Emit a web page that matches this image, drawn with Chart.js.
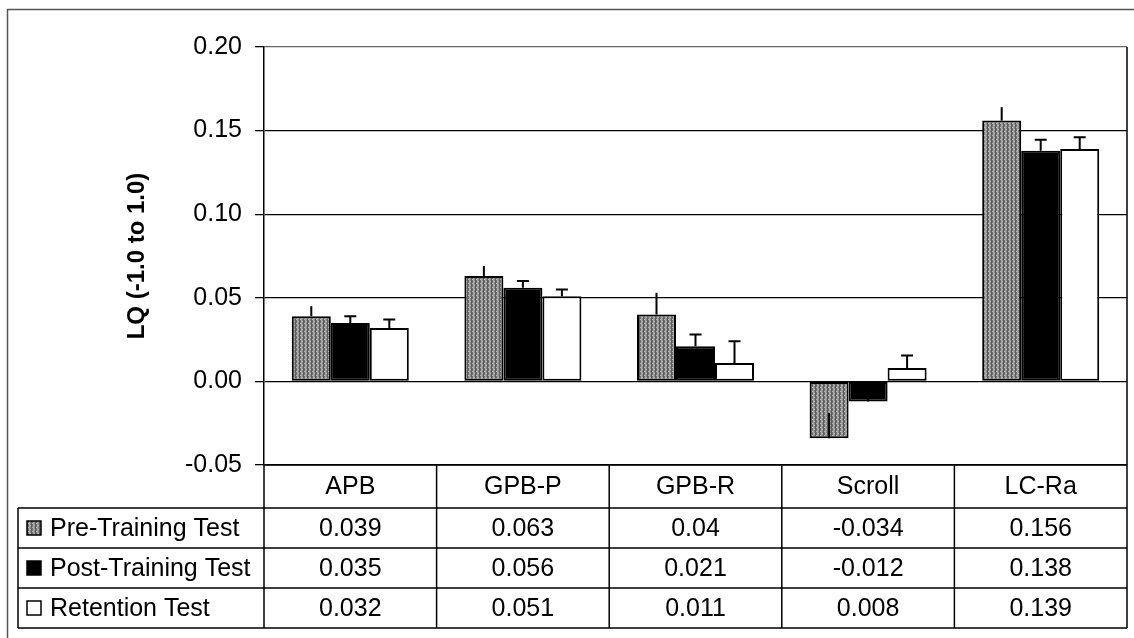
<!DOCTYPE html>
<html>
<head>
<meta charset="utf-8">
<script src="https://cdn.jsdelivr.net/npm/chart.js@4"></script>
<style>
  html, body { margin: 0; padding: 0; background: #fff; }
  canvas { display: block; }
</style>
</head>
<body>
<canvas id="lq" width="1134" height="638"></canvas>
<script>
const categories = ['APB', 'GPB-P', 'GPB-R', 'Scroll', 'LC-Ra'];
const seriesNames = ['Pre-Training Test', 'Post-Training Test', 'Retention Test'];
const preTraining = [0.039, 0.063, 0.04, -0.034, 0.156];
const postTraining = [0.035, 0.056, 0.021, -0.012, 0.138];
const retention = [0.032, 0.051, 0.011, 0.008, 0.139];
// standard errors
const preErr = [0.006, 0.006, 0.013, 0.015, 0.008];
const postErr = [0.004, 0.004, 0.007, 0.006, 0.0066];
const retErr = [0.005, 0.004, 0.013, 0.0075, 0.007];
const yTicks = [-0.05, 0.00, 0.05, 0.10, 0.15, 0.20];

const FONT = '"Liberation Sans", Arial, sans-serif';

// speckled grey fill like the printed original
function stripePattern() {
    const c = document.createElement('canvas');
    c.width = 4; c.height = 4;
    const g = c.getContext('2d');
    const cols = ['#6e6e6e', '#a8a8a8', '#8a8a8a', '#5c5c5c'];
    cols.forEach((col, i) => { g.fillStyle = col; g.fillRect(i, 0, 1, 4); });
    g.fillStyle = '#b8b8b8';
    g.fillRect(2, 1, 1, 1);
    g.fillRect(0, 3, 1, 1);
    return g.createPattern(c, 'repeat');
}

const ctx = document.getElementById('lq').getContext('2d');
const preFill = stripePattern();
const fills = [preFill, '#000000', '#ffffff'];
const errs = [preErr, postErr, retErr];
const caps = [false, true, true];

const errorBars = {
    id: 'errorBars',
    afterDatasetsDraw(chart) {
        const { ctx } = chart;
        const y = chart.scales.y;
        ctx.save();
        ctx.strokeStyle = '#000';
        ctx.lineWidth = 2;
        chart.data.datasets.forEach((ds, i) => {
            const meta = chart.getDatasetMeta(i);
            meta.data.forEach((bar, j) => {
                const top = y.getPixelForValue(ds.data[j] + errs[i][j]);
                ctx.beginPath();
                ctx.moveTo(bar.x, bar.y);
                ctx.lineTo(bar.x, top);
                if (caps[i]) {
                    ctx.moveTo(bar.x - 6, top);
                    ctx.lineTo(bar.x + 6, top);
                }
                ctx.stroke();
            });
        });
        ctx.restore();
    }
};

const dataTable = {
    id: 'dataTable',
    afterDraw(chart) {
        const { ctx, chartArea: a, scales: { x } } = chart;
        const colW = (a.right - a.left) / categories.length;
        const headTop = a.bottom;
        const headH = 43;
        const rowH = 40;
        const tableLeft = 18;
        const bottom = headTop + headH + rowH * seriesNames.length;
        const rows = [preTraining, postTraining, retention];

        ctx.save();
        // outer frame of the figure
        ctx.strokeStyle = '#555';
        ctx.lineWidth = 1.5;
        ctx.beginPath();
        ctx.moveTo(7.5, 640);
        ctx.lineTo(7.5, 9.5);
        ctx.lineTo(1140, 9.5);
        ctx.stroke();

        ctx.strokeStyle = '#000';
        ctx.lineWidth = 1.5;
        ctx.beginPath();
        // axis line doubles as header top
        ctx.moveTo(a.left, headTop);
        ctx.lineTo(a.right, headTop);
        for (let r = 0; r <= seriesNames.length; r++) {
            const yy = headTop + headH + r * rowH;
            ctx.moveTo(tableLeft, yy);
            ctx.lineTo(a.right, yy);
        }
        ctx.moveTo(tableLeft, headTop + headH);
        ctx.lineTo(tableLeft, bottom);
        ctx.moveTo(a.left, headTop);
        ctx.lineTo(a.left, bottom);
        categories.forEach((c, i) => {
            const edge = x.getPixelForValue(i) + colW / 2;
            ctx.moveTo(edge, i === categories.length - 1 ? a.top : headTop);
            ctx.lineTo(edge, bottom);
        });
        ctx.stroke();

        ctx.fillStyle = '#000';
        ctx.font = '25px ' + FONT;
        ctx.textBaseline = 'middle';
        ctx.textAlign = 'center';
        categories.forEach((c, i) => {
            ctx.fillText(c, x.getPixelForValue(i), headTop + headH / 2 + 1);
        });
        rows.forEach((vals, r) => {
            const cy = headTop + headH + r * rowH + rowH / 2 + 1;
            vals.forEach((v, i) => {
                ctx.fillText(String(v), x.getPixelForValue(i), cy);
            });
        });

        ctx.textAlign = 'left';
        seriesNames.forEach((name, r) => {
            const cy = headTop + headH + r * rowH + rowH / 2;
            ctx.fillStyle = fills[r];
            ctx.fillRect(27, cy - 7, 14, 14);
            ctx.strokeStyle = '#000';
            ctx.lineWidth = 1.5;
            ctx.strokeRect(27, cy - 7, 14, 14);
            ctx.fillStyle = '#000';
            ctx.fillText(name, 50, cy + 1);
        });
        ctx.restore();
    }
};

const barStyle = {
    borderColor: '#000',
    borderWidth: 2,
    borderSkipped: false,
    barPercentage: 1.0,
    categoryPercentage: 0.678
};

new Chart(ctx, {
    type: 'bar',
    data: {
        labels: categories,
        datasets: [
            { label: seriesNames[0], data: preTraining, backgroundColor: preFill, ...barStyle },
            { label: seriesNames[1], data: postTraining, backgroundColor: '#000', ...barStyle },
            { label: seriesNames[2], data: retention, backgroundColor: '#fff', ...barStyle }
        ]
    },
    options: {
        responsive: false,
        animation: false,
        devicePixelRatio: 1,
        layout: { padding: { left: 0, top: 47, right: 7, bottom: 173 } },
        scales: {
            x: { display: false },
            y: {
                min: yTicks[0],
                max: yTicks[yTicks.length - 1],
                afterFit: (scale) => { scale.width = 264; },
                afterBuildTicks: (scale) => {
                    scale.ticks = yTicks.map(v => ({ value: v }));
                },
                ticks: {
                    padding: 13,
                    color: '#000',
                    font: { family: FONT, size: 25 },
                    callback: (v) => Number(v).toFixed(2)
                },
                grid: {
                    color: (c) => c.tick && c.tick.value >= 0.2 ? '#666' : '#000',
                    lineWidth: 1.3,
                    tickLength: 9,
                    tickColor: '#000'
                },
                border: { display: true, color: '#000', width: 1.5 },
                title: {
                    display: true,
                    text: 'LQ (-1.0 to 1.0)',
                    color: '#000',
                    font: { family: FONT, size: 24, weight: 'bold' },
                    padding: { top: 123, bottom: 0 }
                }
            }
        },
        plugins: {
            legend: { display: false },
            tooltip: { enabled: false }
        }
    },
    plugins: [errorBars, dataTable]
});
</script>
</body>
</html>
